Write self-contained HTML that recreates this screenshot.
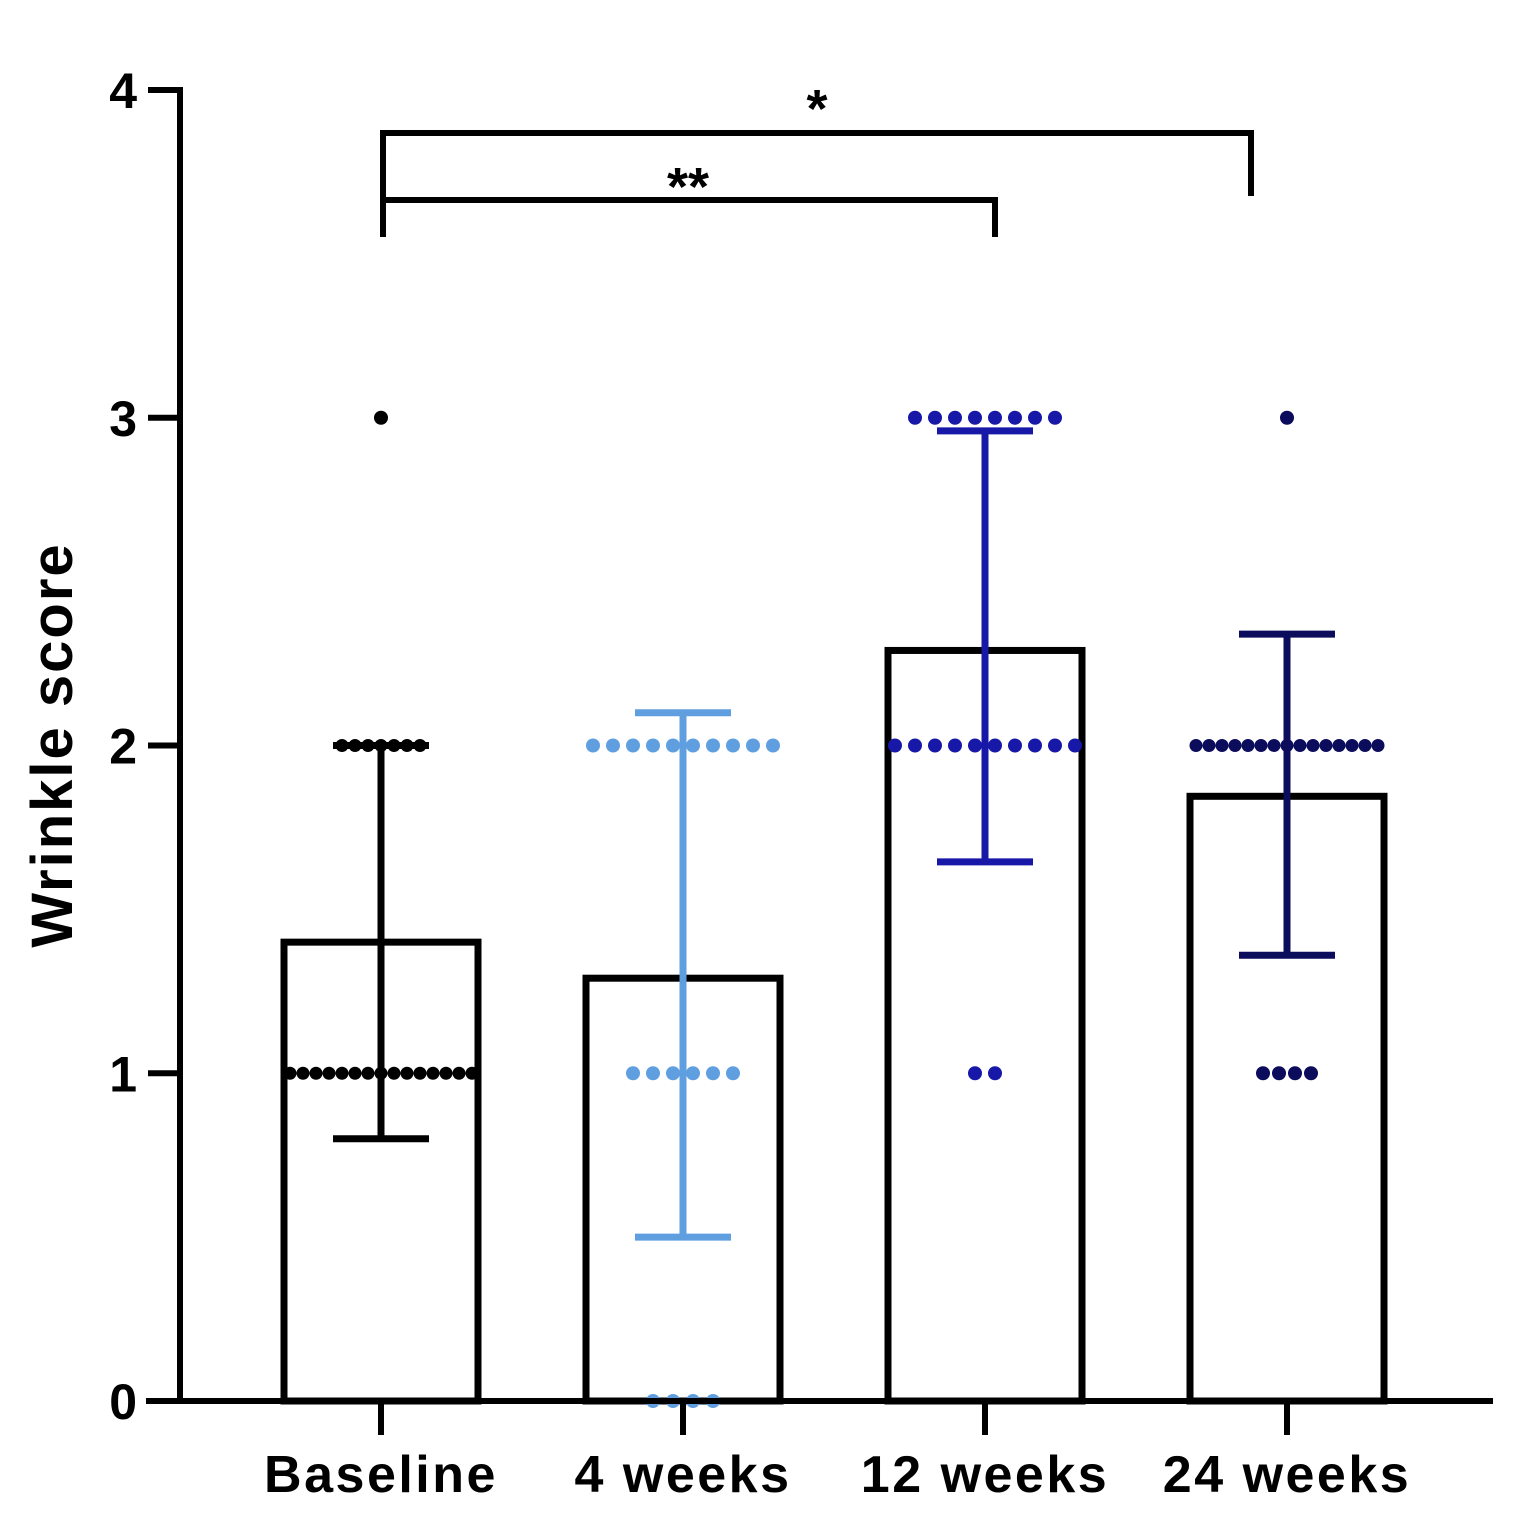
<!DOCTYPE html>
<html><head><meta charset="utf-8"><style>
body{margin:0;background:#fff}
svg{display:block}
text{font-family:"Liberation Sans",Arial,sans-serif;font-weight:bold}
</style></head><body>
<svg id="chart" width="1523" height="1535" viewBox="0 0 1523 1535"></svg>
<script>
const categories=["Baseline","4 weeks","12 weeks","24 weeks"];
const means=[1.4,1.29,2.29,1.845];
const errUpper=[2.0,2.1,2.96,2.34];
const errLower=[0.8,0.5,1.645,1.36];
// point counts at levels 0,1,2,3
const counts0=[0,4,0,0];
const counts1=[15,6,2,4];
const counts2=[7,10,10,15];
const counts3=[1,0,8,1];
const colors=["#000000","#5f9fe0","#1818a8","#0c0c5c"];
const yTicks=[0,1,2,3,4];
const NS="http://www.w3.org/2000/svg";
const svg=document.getElementById('chart');
const y=v=>1401-v*327.75;
const x=i=>381+i*302;
function el(t,a,p){const e=document.createElementNS(NS,t);for(const k in a)e.setAttribute(k,a[k]);(p||svg).appendChild(e);return e;}
categories.forEach((c,i)=>{
 const b=el('rect',{x:x(i)-97,y:y(means[i]),width:194,height:y(0)-y(means[i]),fill:'none',stroke:'#000','stroke-width':7});
 
 
});
categories.forEach((c,i)=>{
 const lv=[counts0[i],counts1[i],counts2[i],counts3[i]];
 lv.forEach((n,v)=>{
  const sp=(i==0||i==3)&&n>6?13:(i==3?16:20);
  for(let k=0;k<n;k++){
   const d=el('circle',{cx:x(i)+(k-(n-1)/2)*sp,cy:y(v),r:(i==0||i==3)&&n>6?6.5:7,fill:colors[i]});
   
   
  }
 });
});
categories.forEach((c,i)=>{
 const g=el('g',{stroke:colors[i],'stroke-width':7});
 
 
 el('line',{x1:x(i),x2:x(i),y1:y(errUpper[i]),y2:y(errLower[i])},g);
 el('line',{x1:x(i)-48,x2:x(i)+48,y1:y(errUpper[i]),y2:y(errUpper[i])},g);
 el('line',{x1:x(i)-48,x2:x(i)+48,y1:y(errLower[i]),y2:y(errLower[i])},g);
});
const ax=el('g',{stroke:'#000','stroke-width':6,fill:'none'});


el('line',{x1:180,x2:180,y1:y(4)-3,y2:y(0)+3},ax);
el('line',{x1:146,x2:1493,y1:y(0),y2:y(0)},ax);
yTicks.forEach(t=>{el('line',{x1:148,x2:180,y1:y(t),y2:y(t)},ax);
 const tl=el('text',{x:137,y:y(t)+18,'text-anchor':'end','font-size':50,fill:'#000'});tl.textContent=t;
 
 });
categories.forEach((c,i)=>{el('line',{x1:x(i),x2:x(i),y1:y(0),y2:y(0)+34},ax);
 const tl=el('text',{x:x(i),y:1492,'text-anchor':'middle','font-size':52,'letter-spacing':2.5,fill:'#000'});tl.textContent=c;
 
 });
const yt=el('text',{x:0,y:0,transform:'translate(72,745) rotate(-90)','text-anchor':'middle','font-size':58,'letter-spacing':2,fill:'#000'});yt.textContent='Wrinkle score';


const sg=el('g',{stroke:'#000','stroke-width':6,fill:'none'});


el('polyline',{points:'383,237 383,200 995,200 995,237'},sg);
el('polyline',{points:'383,237 383,133 1251,133 1251,196'},sg);
const s1=el('text',{x:688,y:205,'text-anchor':'middle','font-size':54,fill:'#000'});s1.textContent='**';


const s2=el('text',{x:817,y:127,'text-anchor':'middle','font-size':54,fill:'#000'});s2.textContent='*';


</script>
</body></html>
